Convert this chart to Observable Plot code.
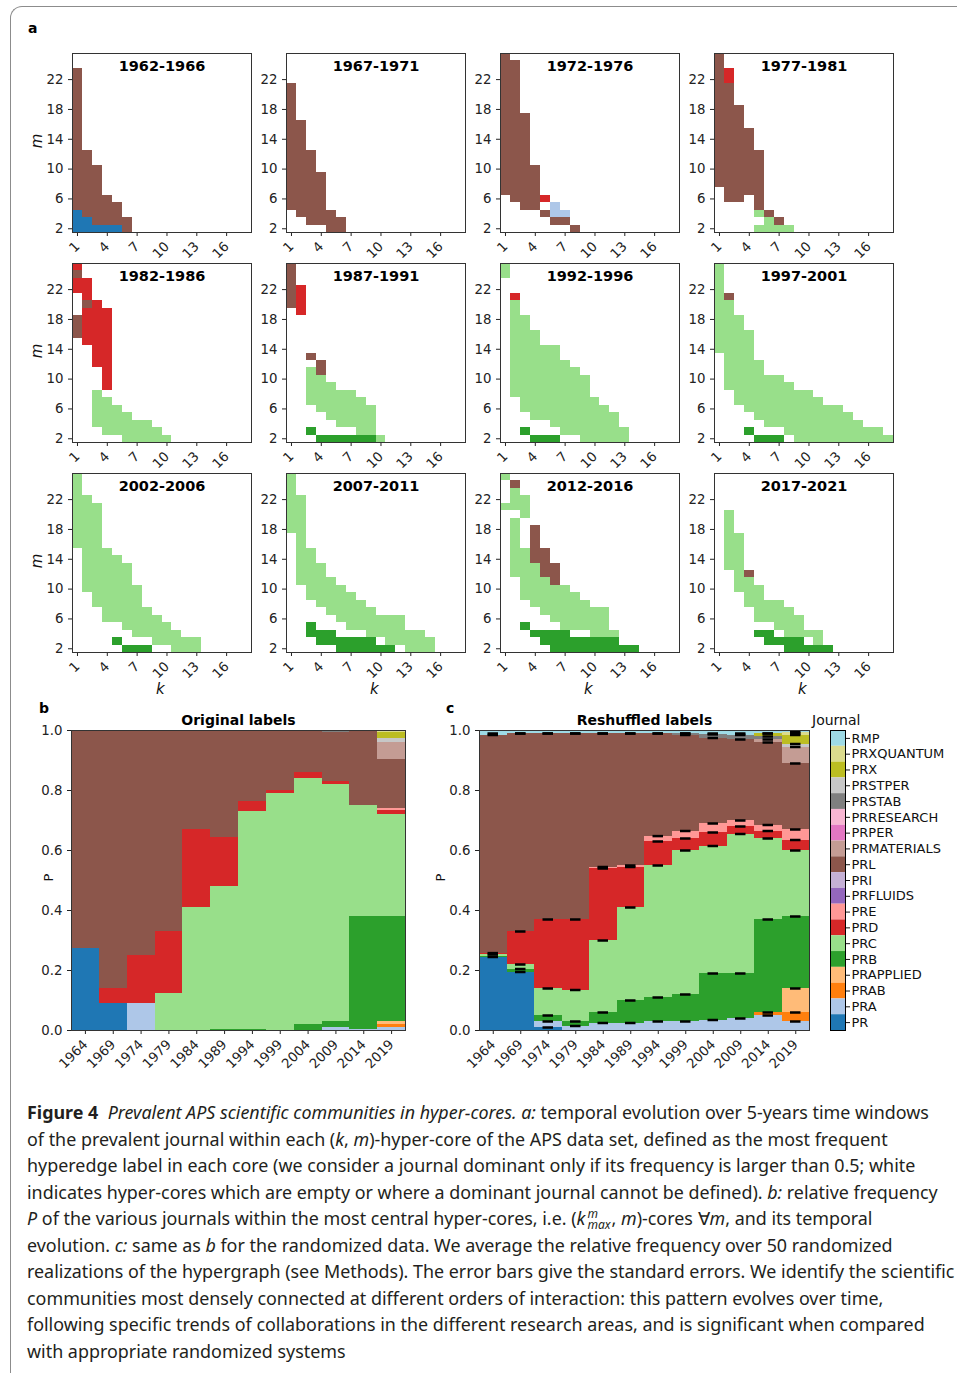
<!DOCTYPE html>
<html><head><meta charset="utf-8">
<script src="https://cdn.jsdelivr.net/npm/d3@7"></script>
<script src="https://cdn.jsdelivr.net/npm/@observablehq/plot@0.6"></script>
<style>
body{margin:0;background:#fff;}
#root{position:relative;width:957px;height:1373px;overflow:hidden;font-family:"DejaVu Sans",sans-serif;}
.abs{position:absolute;}
.box{position:absolute;left:10px;top:6px;width:1000px;height:1500px;border-top:1px solid #8c8c8c;border-left:1px solid #8c8c8c;border-top-left-radius:12px;}
.plab{position:absolute;font-weight:bold;font-size:14px;color:#000;}
.axl{position:absolute;font-style:italic;font-size:15px;color:#111;}
.cap{position:absolute;left:27px;top:1099px;font-family:"Noto Sans",sans-serif;font-size:17.9px;line-height:26.5px;color:#231f20;white-space:nowrap;}
.kmax{display:inline-block;vertical-align:-4px;line-height:11px;font-size:12px;text-align:left;margin:0 1px 0 2px;}
</style></head>
<body><div id="root"><div class="box"></div></div>
<script>
// ---------- journals & colours ----------
const journals = ["PR","PRA","PRAB","PRAPPLIED","PRB","PRC","PRD","PRE","PRFLUIDS","PRI","PRL","PRMATERIALS","PRPER","PRRESEARCH","PRSTAB","PRSTPER","PRX","PRXQUANTUM","RMP"];
const palette = ["#1f77b4","#aec7e8","#ff7f0e","#ffbb78","#2ca02c","#98df8a","#d62728","#ff9896","#9467bd","#c5b0d5","#8c564b","#c49c94","#e377c2","#f7b6d2","#7f7f7f","#c7c7c7","#bcbd22","#dbdb8d","#9edae5"];
const windows = ["1962-1966","1967-1971","1972-1976","1977-1981","1982-1986","1987-1991","1992-1996","1997-2001","2002-2006","2007-2011","2012-2016","2017-2021"];
const yearTicks = ["1964","1969","1974","1979","1984","1989","1994","1999","2004","2009","2014","2019"];
const kTicks = [1,4,7,10,13,16];
const mTicks = [2,6,10,14,18,22];
const pTicks = [0,0.2,0.4,0.6,0.8,1.0];

// ---------- panel a: segments [k, mFrom, mTo, journal] ----------
const a1962 = [[1,2,4,"PR"],[1,5,23,"PRL"],[2,2,3,"PR"],[2,4,12,"PRL"],[3,2,2,"PR"],[3,3,10,"PRL"],[4,2,2,"PR"],[4,3,6,"PRL"],[5,2,2,"PR"],[5,3,5,"PRL"],[6,2,3,"PRL"]];
const a1967 = [[1,5,21,"PRL"],[2,4,16,"PRL"],[3,3,12,"PRL"],[4,3,9,"PRL"],[5,2,4,"PRL"],[6,2,3,"PRL"]];
const a1972 = [[1,7,25,"PRL"],[2,6,24,"PRL"],[3,5,17,"PRL"],[4,5,10,"PRL"],[5,4,4,"PRL"],[5,6,6,"PRD"],[6,3,3,"PRL"],[6,4,5,"PRA"],[7,3,3,"PRL"],[7,4,4,"PRA"],[8,2,2,"PRL"]];
const a1977 = [[1,8,25,"PRL"],[2,6,21,"PRL"],[2,22,23,"PRD"],[3,6,18,"PRL"],[4,7,15,"PRL"],[5,2,2,"PRC"],[5,4,4,"PRC"],[5,5,12,"PRL"],[6,2,3,"PRC"],[6,4,4,"PRL"],[7,2,2,"PRC"],[7,3,3,"PRL"],[8,2,2,"PRC"]];
const a1982 = [[1,16,18,"PRL"],[1,22,23,"PRD"],[1,24,24,"PRL"],[1,25,25,"PRD"],[2,15,19,"PRD"],[2,20,20,"PRL"],[2,21,23,"PRD"],[3,4,8,"PRC"],[3,12,20,"PRD"],[4,3,7,"PRC"],[4,9,19,"PRD"],[5,3,6,"PRC"],[6,2,5,"PRC"],[7,2,4,"PRC"],[8,2,4,"PRC"],[9,2,3,"PRC"],[10,2,2,"PRC"]];
const a1987 = [[1,20,25,"PRL"],[2,19,22,"PRD"],[3,3,3,"PRB"],[3,7,11,"PRC"],[3,13,13,"PRL"],[4,2,2,"PRB"],[4,6,10,"PRC"],[4,11,12,"PRL"],[5,2,2,"PRB"],[5,5,9,"PRC"],[6,2,2,"PRB"],[6,4,8,"PRC"],[7,2,2,"PRB"],[7,4,8,"PRC"],[8,2,2,"PRB"],[8,3,7,"PRC"],[9,2,2,"PRB"],[9,3,6,"PRC"],[10,2,2,"PRC"]];
const a1992 = [[1,24,25,"PRC"],[2,8,20,"PRC"],[2,21,21,"PRD"],[3,3,3,"PRB"],[3,6,18,"PRC"],[4,2,2,"PRB"],[4,5,16,"PRC"],[5,2,2,"PRB"],[5,5,14,"PRC"],[6,2,2,"PRB"],[6,4,14,"PRC"],[7,3,12,"PRC"],[8,3,11,"PRC"],[9,2,10,"PRC"],[10,2,7,"PRC"],[11,2,6,"PRC"],[12,2,5,"PRC"],[13,2,3,"PRC"]];
const a1997 = [[1,14,25,"PRC"],[2,9,20,"PRC"],[2,21,21,"PRL"],[3,7,18,"PRC"],[4,3,3,"PRB"],[4,6,16,"PRC"],[5,2,2,"PRB"],[5,5,12,"PRC"],[6,2,2,"PRB"],[6,4,10,"PRC"],[7,2,2,"PRB"],[7,4,10,"PRC"],[8,3,9,"PRC"],[9,2,8,"PRC"],[10,2,8,"PRC"],[11,2,7,"PRC"],[12,2,6,"PRC"],[13,2,6,"PRC"],[14,2,5,"PRC"],[15,2,4,"PRC"],[16,2,3,"PRC"],[17,2,3,"PRC"],[18,2,2,"PRC"]];
const a2002 = [[1,16,25,"PRC"],[2,10,22,"PRC"],[3,8,21,"PRC"],[4,6,15,"PRC"],[5,3,3,"PRB"],[5,6,14,"PRC"],[6,2,2,"PRB"],[6,5,13,"PRC"],[7,2,2,"PRB"],[7,4,10,"PRC"],[8,2,2,"PRB"],[8,4,7,"PRC"],[9,3,6,"PRC"],[10,3,5,"PRC"],[11,2,4,"PRC"],[12,2,3,"PRC"],[13,2,3,"PRC"]];
const a2007 = [[1,18,25,"PRC"],[2,11,22,"PRC"],[3,4,5,"PRB"],[3,9,15,"PRC"],[4,3,4,"PRB"],[4,8,13,"PRC"],[5,3,4,"PRB"],[5,7,11,"PRC"],[6,2,3,"PRB"],[6,6,10,"PRC"],[7,2,3,"PRB"],[7,5,9,"PRC"],[8,2,3,"PRB"],[8,5,8,"PRC"],[9,2,3,"PRB"],[9,4,7,"PRC"],[10,2,2,"PRB"],[10,4,6,"PRC"],[11,2,2,"PRB"],[11,3,6,"PRC"],[12,3,6,"PRC"],[13,2,4,"PRC"],[14,2,4,"PRC"],[15,2,3,"PRC"]];
const a2012 = [[1,21,21,"PRC"],[1,25,25,"PRC"],[2,12,19,"PRC"],[2,21,23,"PRC"],[2,24,24,"PRL"],[3,5,5,"PRB"],[3,9,15,"PRC"],[3,20,22,"PRC"],[4,4,4,"PRB"],[4,8,13,"PRC"],[4,14,18,"PRL"],[5,3,4,"PRB"],[5,7,11,"PRC"],[5,12,15,"PRL"],[6,2,4,"PRB"],[6,6,10,"PRC"],[6,11,13,"PRL"],[7,2,4,"PRB"],[7,5,10,"PRC"],[8,2,3,"PRB"],[8,5,9,"PRC"],[9,2,3,"PRB"],[9,5,8,"PRC"],[10,2,3,"PRB"],[10,4,7,"PRC"],[11,2,3,"PRB"],[11,4,7,"PRC"],[12,2,3,"PRB"],[12,4,4,"PRC"],[13,2,2,"PRB"],[14,2,2,"PRB"]];
const a2017 = [[2,13,20,"PRC"],[3,10,17,"PRC"],[4,8,11,"PRC"],[4,12,12,"PRL"],[5,4,4,"PRB"],[5,6,10,"PRC"],[6,3,4,"PRB"],[6,6,8,"PRC"],[7,3,3,"PRB"],[7,5,8,"PRC"],[8,2,3,"PRB"],[8,4,7,"PRC"],[9,2,3,"PRB"],[9,4,6,"PRC"],[10,2,2,"PRB"],[10,4,4,"PRC"],[11,2,2,"PRB"],[11,3,4,"PRC"],[12,2,2,"PRB"]];
const panelsA = [a1962,a1967,a1972,a1977,a1982,a1987,a1992,a1997,a2002,a2007,a2012,a2017];

// ---------- panel b: original labels, share per window ----------
const bPR          = [0.275,0.09,0,0,0,0,0,0,0,0,0,0];
const bPRA         = [0,0,0.09,0,0,0,0,0,0,0.01,0.005,0.01];
const bPRAB        = [0,0,0,0,0,0,0,0,0,0,0,0.01];
const bPRAPPLIED   = [0,0,0,0,0,0,0,0,0,0,0,0.01];
const bPRB         = [0,0,0,0,0,0.005,0.003,0,0.02,0.02,0.375,0.35];
const bPRC         = [0,0,0,0.125,0.41,0.475,0.727,0.79,0.82,0.79,0.37,0.34];
const bPRD         = [0,0.05,0.16,0.205,0.26,0.165,0.035,0.01,0.02,0.01,0,0.015];
const bPRE         = [0,0,0,0,0,0,0,0,0,0,0,0.005];
const bPRL         = [0.725,0.86,0.75,0.67,0.33,0.355,0.235,0.2,0.14,0.165,0.25,0.165];
const bPRMATERIALS = [0,0,0,0,0,0,0,0,0,0,0,0.055];
const bPRSTAB      = [0,0,0,0,0,0,0,0,0,0.005,0,0];
const bPRSTPER     = [0,0,0,0,0,0,0,0,0,0,0,0.015];
const bPRX         = [0,0,0,0,0,0,0,0,0,0,0,0.02];
const bPRXQUANTUM  = [0,0,0,0,0,0,0,0,0,0,0,0.005];

// ---------- panel c: reshuffled labels (mean over realizations) ----------
const cPR          = [0.245,0.195,0.01,0,0,0,0,0,0,0,0,0];
const cPRA         = [0,0,0.02,0.015,0.025,0.025,0.03,0.03,0.035,0.04,0.05,0.03];
const cPRAB        = [0,0,0,0,0,0,0,0,0,0,0.01,0.03];
const cPRAPPLIED   = [0,0,0,0,0,0,0,0,0,0,0,0.08];
const cPRB         = [0.003,0.01,0.02,0.015,0.035,0.075,0.08,0.09,0.155,0.15,0.31,0.24];
const cPRC         = [0.005,0.015,0.09,0.105,0.24,0.31,0.44,0.48,0.425,0.465,0.27,0.22];
const cPRD         = [0.005,0.11,0.23,0.235,0.24,0.135,0.08,0.04,0.045,0.025,0.025,0.035];
const cPRE         = [0,0,0,0,0.005,0.005,0.018,0.025,0.03,0.02,0.02,0.035];
const cPRL         = [0.727,0.66,0.62,0.62,0.445,0.44,0.342,0.32,0.285,0.27,0.275,0.22];
const cPRMATERIALS = [0,0,0,0,0,0,0,0,0,0,0.01,0.055];
const cPRSTAB      = [0,0,0,0,0,0,0,0.005,0.012,0.015,0.01,0];
const cPRSTPER     = [0,0,0,0,0,0,0,0,0,0,0,0.01];
const cPRX         = [0,0,0,0,0,0,0,0,0,0,0.01,0.03];
const cPRXQUANTUM  = [0,0,0,0,0,0,0,0,0,0,0,0.01];
const cRMP         = [0.015,0.01,0.01,0.01,0.01,0.01,0.01,0.01,0.013,0.015,0.01,0.005];

const bSeries = {PR:bPR,PRA:bPRA,PRAB:bPRAB,PRAPPLIED:bPRAPPLIED,PRB:bPRB,PRC:bPRC,PRD:bPRD,PRE:bPRE,PRL:bPRL,PRMATERIALS:bPRMATERIALS,PRSTAB:bPRSTAB,PRSTPER:bPRSTPER,PRX:bPRX,PRXQUANTUM:bPRXQUANTUM};
const cSeries = {PR:cPR,PRA:cPRA,PRAB:cPRAB,PRAPPLIED:cPRAPPLIED,PRB:cPRB,PRC:cPRC,PRD:cPRD,PRE:cPRE,PRL:cPRL,PRMATERIALS:cPRMATERIALS,PRSTAB:cPRSTAB,PRSTPER:cPRSTPER,PRX:cPRX,PRXQUANTUM:cPRXQUANTUM,RMP:cRMP};

// ---------- helpers ----------
const root = document.getElementById("root");
function place(node, left, top){ node.style.position="absolute"; node.style.left=left+"px"; node.style.top=top+"px"; root.appendChild(node); return node; }
function html(cls, text, left, top, extra){ const d=document.createElement("div"); d.className=cls; d.innerHTML=text; if(extra) Object.assign(d.style, extra); return place(d,left,top); }
const colorScale = {domain: journals, range: palette};

// heatmaps
const FW = 179, FH = 179, ML = 40, MR = 4, MT = 4, MB = 44;
const colLeft = [71.5, 285.5, 499.5, 713.5];
const rowTop = [52.5, 262.5, 472.5];
panelsA.forEach((segs, i) => {
  const cells = [];
  for (const [k, m1, m2, j] of segs) for (let m = m1; m <= m2; m++) cells.push({k, m, j});
  const p = Plot.plot({
    width: ML+FW+MR, height: MT+FH+MB,
    marginLeft: ML, marginRight: MR, marginTop: MT, marginBottom: MB,
    style: {fontFamily:"DejaVu Sans", fontSize:"13.3px", color:"#222", background:"transparent", overflow:"visible"},
    x: {domain:[0.5,18.5], ticks:kTicks, tickRotate:-45, label:null, tickSize:4},
    y: {domain:[1.5,25.5], ticks:mTicks, label:null, tickSize:4},
    color: colorScale,
    marks: [
      Plot.rect(cells, {x1: d=>d.k-0.5, x2: d=>d.k+0.5, y1: d=>d.m-0.5, y2: d=>d.m+0.5, fill:"j", shapeRendering:"crispEdges"}),
      Plot.frame({stroke:"#333"}),
      Plot.text([windows[i]], {text: d=>d, frameAnchor:"top", lineAnchor:"middle", dy:12.5, fontWeight:"bold", fontSize:14.5, fill:"#000"})
    ]
  });
  const c = i % 4, r = Math.floor(i / 4);
  place(p, colLeft[c]-ML, rowTop[r]-MT);
});
rowTop.forEach(t => html("axl", "m", 30, t+FH/2-10, {transform:"rotate(-90deg)"}));
colLeft.forEach(l => html("axl", "k", l+FW/2-5, 680));

// stacked panels
function stackRows(series){
  const rows = [];
  for (const j of journals) { const v = series[j]; if (!v) continue; v.forEach((val, w) => rows.push({year: yearTicks[w], journal: j, value: val})); }
  return rows;
}
function errRows(series){
  const out = [];
  yearTicks.forEach((y, w) => {
    let cum = 0; const tops = [];
    for (const j of journals) { const v = series[j]; if (!v) continue; cum += v[w]; if (v[w] >= 0.004) tops.push(cum); }
    tops.slice(0, -1).forEach(t => out.push({year: y, top: t}));
    out.push({year: y, top: tops[tops.length-1] > 0.995 ? 0.99 : tops[tops.length-1]});
  });
  return out;
}
const SM = {l:40, r:4, t:22, b:50};
function stackPlot(series, title, withErr, fw){
  const marks = [
    Plot.barY(stackRows(series), {x:"year", y:"value", fill:"journal", shapeRendering:"crispEdges"}),
    Plot.frame({stroke:"#333"}),
    Plot.text([title], {text:d=>d, frameAnchor:"top", lineAnchor:"middle", dy:-10, fontWeight:"bold", fontSize:14, fill:"#000"})
  ];
  if (withErr) marks.splice(1, 0, Plot.tickY(errRows(series), {x:"year", y:"top", stroke:"#000", strokeWidth:2.5, insetLeft:8.5, insetRight:8.5}));
  return Plot.plot({
    width: SM.l+fw+SM.r, height: SM.t+300+SM.b,
    marginLeft: SM.l, marginRight: SM.r, marginTop: SM.t, marginBottom: SM.b,
    style: {fontFamily:"DejaVu Sans", fontSize:"13.3px", color:"#222", background:"transparent", overflow:"visible"},
    x: {type:"band", domain: yearTicks, padding:0, round:false, tickRotate:-45, label:null, tickSize:4},
    y: {domain:[0,1], ticks:pTicks, tickFormat:".1f", label:null, tickSize:4},
    color: colorScale,
    marks
  });
}
place(stackPlot(bSeries, "Original labels", false, 334), 71-SM.l, 730-SM.t);
place(stackPlot(cSeries, "Reshuffled labels", true, 330), 479-SM.l, 730-SM.t);
html("axl", "P", 45, 870, {fontStyle:"normal", fontSize:"13px", transform:"rotate(-90deg)"});
html("axl", "P", 437, 870, {fontStyle:"normal", fontSize:"13px", transform:"rotate(-90deg)"});

// legend
const legendList = journals.slice().reverse();
const leg = Plot.plot({
  width: 15+110, height: 300, marginLeft:0, marginRight:110, marginTop:0, marginBottom:0,
  style: {fontFamily:"DejaVu Sans", fontSize:"13px", color:"#111", background:"transparent", overflow:"visible"},
  x: {domain:[0,1], axis:null},
  y: {type:"band", domain: legendList, padding:0, round:false, axis:"right", label:null, tickSize:4, tickPadding:2},
  color: colorScale,
  marks: [Plot.barX(legendList, {x1:0, x2:1, y:d=>d, fill:d=>d}), Plot.frame({stroke:"#000"})]
});
place(leg, 830, 730);
html("abs", "Journal", 812, 712, {fontSize:"14px", color:"#111"});

// panel letters
html("plab", "a", 28, 20);
html("plab", "b", 39, 700);
html("plab", "c", 446, 700);

// caption
html("cap",
 "<b>Figure 4</b>&nbsp; <i>Prevalent APS scientific communities in hyper-cores. a:</i> temporal evolution over 5-years time windows<br>" +
 "of the prevalent journal within each (<i>k</i>, <i>m</i>)-hyper-core of the APS data set, defined as the most frequent<br>" +
 "hyperedge label in each core (we consider a journal dominant only if its frequency is larger than 0.5; white<br>" +
 "indicates hyper-cores which are empty or where a dominant journal cannot be defined). <i>b:</i> relative frequency<br>" +
 "<i>P</i> of the various journals within the most central hyper-cores, i.e. (<i>k</i><span class='kmax'><i>m</i><br><i>max</i></span>, <i>m</i>)-cores ∀<i>m</i>, and its temporal<br>" +
 "evolution. <i>c:</i> same as <i>b</i> for the randomized data. We average the relative frequency over 50 randomized<br>" +
 "realizations of the hypergraph (see Methods). The error bars give the standard errors. We identify the scientific<br>" +
 "communities most densely connected at different orders of interaction: this pattern evolves over time,<br>" +
 "following specific trends of collaborations in the different research areas, and is significant when compared<br>" +
 "with appropriate randomized systems", 27, 1099);
</script>
</body></html>
